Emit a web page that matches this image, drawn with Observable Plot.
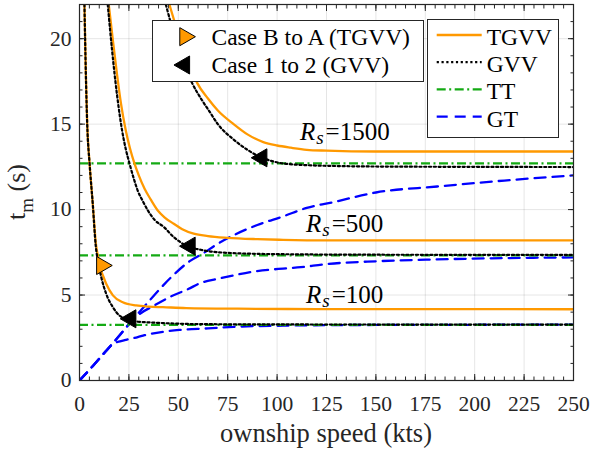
<!DOCTYPE html>
<html><head><meta charset="utf-8">
<script src="https://cdn.jsdelivr.net/npm/d3@7"></script>
<script src="https://cdn.jsdelivr.net/npm/@observablehq/plot@0.6"></script>
<style>body{margin:0;background:#fff;} svg{display:block}</style>
</head><body><div id="chart"></div>
<script>
// ---- tick values ----
const xMajorTicks = [0,25,50,75,100,125,150,175,200,225,250];
const yMajorTicks = [0,5,10,15,20];

// ---- series ----
const rsNames = ["100","500","1500"];
const ttLevels = [3.26, 7.32, 12.7];

const tgvv100X = [2.5,3.2,3.9,5.1,6.7,8.4,9.3,10.5,12,13.5,16.9,21.9,28.7,35,42.2,54,80,120,250];
const tgvv100Y = [22,18,15,12.7,10.35,7.9,7.3,6.6,6.1,5.66,4.98,4.58,4.39,4.32,4.29,4.24,4.2,4.18,4.17];
const tgvv500X = [14.8,17,19,21,23.3,25.5,27.8,30,33,36,39.6,43,47.7,52,57.8,65,74.7,90,103,127,175,250];
const tgvv500Y = [22,19.8,17.9,16.2,14.7,13.6,12.7,12.0,11.2,10.6,9.95,9.55,9.17,8.85,8.59,8.45,8.35,8.27,8.23,8.2,8.2,8.2];
const tgvv1500X = [45.5,50,55,59.6,65,70,78,85,93,100,107,115,125,150,200,250];
const tgvv1500Y = [22,20.3,18.7,17.4,16.5,15.8,15.0,14.4,13.95,13.75,13.62,13.5,13.45,13.4,13.4,13.4];

const gvv100X = [2.5,3.2,3.9,5.1,6.7,8.2,9.5,11,13.5,16.9,20.2,24.4,28.7,33.7,42.2,60,100,250];
const gvv100Y = [22,18,15,12.7,10.35,7.9,6.9,6.05,5.07,4.29,3.8,3.6,3.45,3.41,3.36,3.3,3.28,3.27];
const gvv500X = [14.3,16.5,19,21.6,23.5,25.3,27.5,29.5,32,34.6,38,42.7,47.7,51,54.5,58,61.2,65,69.7,78,86.5,112,150,250];
const gvv500Y = [22,19.3,16.7,14.6,13.5,12.7,11.8,11.1,10.5,9.95,9.4,8.98,8.39,8.1,7.86,7.73,7.65,7.57,7.51,7.45,7.42,7.38,7.36,7.35];
const gvv1500X = [43.7,47,52,57,62,66,70,78,85,91,97,103,115,130,150,200,250];
const gvv1500Y = [22,20.6,18.8,17.4,16.4,15.7,15.0,14.1,13.5,13.1,12.85,12.7,12.6,12.55,12.52,12.5,12.49];

const gt100X = [0,7,14,17,21,23.6,29.5,32.9,42.2,50.6,65,78,103,125,150,200,250];
const gt100Y = [0,0.88,1.8,2.15,2.3,2.38,2.54,2.65,2.85,2.96,3.05,3.14,3.21,3.24,3.25,3.26,3.27];
const gt500X = [0,7,14,20,25,30,38,46,55,61.2,70,78,87,103,112,124,151,180,208,250];
const gt500Y = [0,0.88,1.8,2.6,3.3,3.85,4.4,4.9,5.35,5.7,5.95,6.15,6.35,6.55,6.63,6.8,6.98,7.08,7.15,7.2];
const gt1500X = [0,7,14,20,28,36,46,56,62,70,78,90,103,115,129,150,181,215,250];
const gt1500Y = [0,0.88,1.8,2.6,3.7,4.75,6.0,7.0,7.4,8.0,8.5,9.1,9.6,10.1,10.45,11.0,11.35,11.7,12.0];

// markers
const caseBAX = [11.3];
const caseBAY = [6.73];
const case12X = [25.9, 55.9, 92.2];
const case12Y = [3.61, 7.86, 13.03];

// R_s annotation anchors (data coords)
const rsLabelX = [114.9, 114.9, 111.8];
const rsLabelY = [4.49, 8.68, 14.05];

// ---- build tables ----
const rows = (xs, ys, rs) => xs.map((x, i) => ({x, y: ys[i], rs}));
const tgvv = [...rows(tgvv100X,tgvv100Y,"100"), ...rows(tgvv500X,tgvv500Y,"500"), ...rows(tgvv1500X,tgvv1500Y,"1500")];
const gvv = [...rows(gvv100X,gvv100Y,"100"), ...rows(gvv500X,gvv500Y,"500"), ...rows(gvv1500X,gvv1500Y,"1500")];
const gt = [...rows(gt100X,gt100Y,"100"), ...rows(gt500X,gt500Y,"500"), ...rows(gt1500X,gt1500Y,"1500")];
const caseBA = rows(caseBAX, caseBAY, "BA");
const case12 = rows(case12X, case12Y, "12");

const FONT = "'Liberation Serif','Times New Roman',serif";
const ORANGE = "#ff9900", GREEN = "#14aa14", BLUE = "#0000ff";
const AX = "#262626";
const DOTS = "2.2,2.6";
const LW = 2.3;

const minorX = d3.range(0, 251, 5);
const minorY = d3.range(0, 23, 1);

const plot = Plot.plot({
  width: 591, height: 452,
  marginLeft: 79, marginRight: 18, marginTop: 4, marginBottom: 72,
  style: {fontFamily: FONT, fontSize: "21.5px", color: AX, background: "#fff"},
  x: {domain: [0, 250]},
  y: {domain: [0, 22]},
  marks: [
    Plot.gridX(xMajorTicks, {stroke: "#000", strokeOpacity: 0.1, strokeWidth: 1}),
    Plot.gridY(yMajorTicks, {stroke: "#000", strokeOpacity: 0.1, strokeWidth: 1}),
    Plot.line(gt, {x: "x", y: "y", z: "rs", stroke: BLUE, strokeWidth: LW, strokeDasharray: "11,7", curve: "monotone-x", clip: true}),
    Plot.ruleY(ttLevels, {stroke: GREEN, strokeWidth: LW, strokeDasharray: "9,3.5,2,3.5"}),
    Plot.line(tgvv, {x: "x", y: "y", z: "rs", stroke: ORANGE, strokeWidth: LW, curve: "monotone-x", clip: true}),
    Plot.line(gvv, {x: "x", y: "y", z: "rs", stroke: "#000", strokeWidth: 2.2, strokeDasharray: DOTS, curve: "monotone-x", clip: true}),
    Plot.dot(caseBA, {x: "x", y: "y", symbol: "triangle", rotate: 90, r: 6.7, fill: ORANGE, stroke: "#000", strokeWidth: 1}),
    Plot.dot(case12, {x: "x", y: "y", symbol: "triangle", rotate: -90, r: 6.7, fill: "#000", stroke: "#000", strokeWidth: 1}),
    // ticks (inward)
    Plot.axisX({ticks: xMajorTicks, tickSize: -6, tickFormat: () => "", label: null, stroke: AX}),
    Plot.axisX({ticks: minorX, tickSize: -3.5, tickFormat: () => "", label: null, stroke: AX}),
    Plot.axisX({anchor: "top", ticks: xMajorTicks, tickSize: -6, tickFormat: () => "", label: null, stroke: AX}),
    Plot.axisX({anchor: "top", ticks: minorX, tickSize: -3.5, tickFormat: () => "", label: null, stroke: AX}),
    Plot.axisY({ticks: yMajorTicks, tickSize: -6, tickFormat: () => "", label: null, stroke: AX}),
    Plot.axisY({ticks: minorY, tickSize: -3.5, tickFormat: () => "", label: null, stroke: AX}),
    Plot.axisY({anchor: "right", ticks: yMajorTicks, tickSize: -6, tickFormat: () => "", label: null, stroke: AX}),
    Plot.axisY({anchor: "right", ticks: minorY, tickSize: -3.5, tickFormat: () => "", label: null, stroke: AX}),
    // tick labels
    Plot.axisX({ticks: xMajorTicks, tickSize: 0, tickPadding: 15, label: null, fill: AX}),
    Plot.axisY({ticks: yMajorTicks, tickSize: 0, tickPadding: 8, label: null, fill: AX}),
    Plot.frame({stroke: AX, strokeWidth: 1.2})
  ]
});

document.getElementById("chart").appendChild(plot);

const svg = d3.select(plot);
const sx = plot.scale("x"), sy = plot.scale("y");
const ann = svg.append("g")
  .attr("font-family", FONT)
  .attr("text-anchor", "start")
  .style("fill", "#000");
ann.raise();

// R_s labels
rsNames.forEach((name, i) => {
  const t = ann.append("text")
    .attr("x", sx.apply(rsLabelX[i]))
    .attr("y", sy.apply(rsLabelY[i]))
    .attr("text-anchor", "start")
    .attr("font-size", 25);
  t.append("tspan").attr("font-style", "italic").text("R");
  t.append("tspan").attr("font-style", "italic").attr("font-size", 19).attr("dy", 4).attr("dx", 1).text("s");
  t.append("tspan").attr("dy", -4).attr("dx", 2).text("=" + name);
});

// axis titles
ann.append("text")
  .attr("x", (sx.range[0] + sx.range[1]) / 2)
  .attr("y", 441.5)
  .attr("text-anchor", "middle")
  .attr("font-size", 26.5)
  .style("fill", AX)
  .text("ownship speed (kts)");

const yl = ann.append("text")
  .attr("transform", `translate(25,${(sy.range[0] + sy.range[1]) / 2}) rotate(-90)`)
  .attr("text-anchor", "middle")
  .attr("font-size", 26)
  .style("fill", AX);
yl.append("tspan").text("t");
yl.append("tspan").attr("font-size", 19).attr("dy", 8).text("m");
yl.append("tspan").attr("dy", -8).text(" (s)");

// Legend 1 (markers)
const L1 = ann.append("g").attr("font-size", 23.5);
L1.append("rect").attr("x", 152.5).attr("y", 20.5).attr("width", 271).attr("height", 61)
  .style("fill", "#ffffff").style("stroke", AX).style("stroke-width", 1);
const tri = d3.symbol(d3.symbolTriangle, 141)();
L1.append("path").attr("d", tri).attr("transform", "translate(185,36.7) rotate(90)")
  .style("fill", ORANGE).style("stroke", "#000");
L1.append("path").attr("d", tri).attr("transform", "translate(184.4,65) rotate(-90)")
  .style("fill", "#000").style("stroke", "#000");
L1.append("text").attr("x", 211.5).attr("y", 45).attr("text-anchor", "start").text("Case B to A (TGVV)");
L1.append("text").attr("x", 211.5).attr("y", 73.3).attr("text-anchor", "start").text("Case 1 to 2 (GVV)");

// Legend 2 (lines)
const L2 = ann.append("g").attr("font-size", 23.5);
L2.append("rect").attr("x", 427.5).attr("y", 19.5).attr("width", 131).attr("height", 118)
  .style("fill", "#ffffff").style("stroke", AX).style("stroke-width", 1);
const items = [
  {label: "TGVV", stroke: ORANGE, dash: null, w: LW},
  {label: "GVV", stroke: "#000", dash: DOTS, w: 2.2},
  {label: "TT", stroke: GREEN, dash: "9,3.5,2,3.5", w: LW},
  {label: "GT", stroke: BLUE, dash: "11,7", w: LW}
];
items.forEach((it, i) => {
  const y = 35 + i * 27.2;
  L2.append("line").attr("x1", 436.7).attr("x2", 481.7).attr("y1", y).attr("y2", y)
    .style("stroke", it.stroke).style("stroke-width", it.w).attr("stroke-dasharray", it.dash);
  L2.append("text").attr("x", 486.7).attr("y", y + 10).attr("text-anchor", "start").text(it.label);
});
</script>
</body></html>
